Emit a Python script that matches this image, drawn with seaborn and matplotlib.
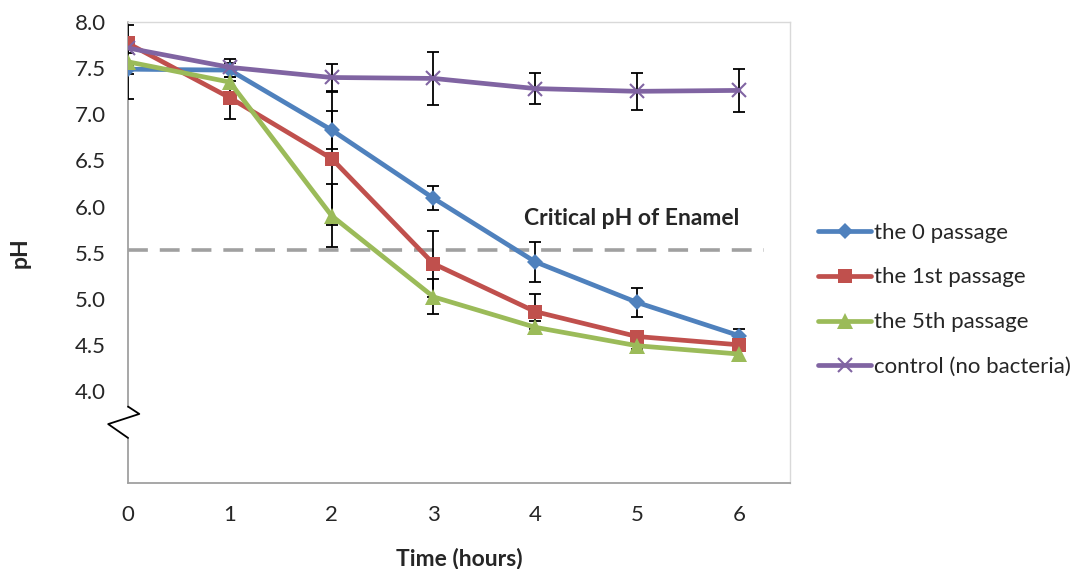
import numpy as np
import pandas as pd
import matplotlib
matplotlib.use("Agg")
import matplotlib.pyplot as plt
import matplotlib.transforms as mtransforms
import seaborn as sns


# Data
time_h = [0, 1, 2, 3, 4, 5, 6]

ph_p0 = [7.49, 7.48, 6.83, 6.09, 5.40, 4.96, 4.60]
ph_p1 = [7.77, 7.18, 6.52, 5.38, 4.86, 4.59, 4.50]
ph_p5 = [7.57, 7.35, 5.90, 5.02, 4.69, 4.49, 4.40]
ph_ctrl = [7.72, 7.51, 7.40, 7.39, 7.28, 7.25, 7.26]

err_p0 = [0.05, 0.12, 0.21, 0.13, 0.22, 0.16, 0.07]
err_p1 = [0.05, 0.23, 0.72, 0.36, 0.19, 0.06, 0.05]
err_p5 = [0.40, 0.05, 0.34, 0.19, 0.07, 0.04, 0.05]
err_ctrl = [0.05, 0.05, 0.15, 0.29, 0.17, 0.20, 0.23]

labels = ["the 0 passage", "the 1st passage", "the 5th passage", "control (no bacteria)"]
colors = ["#4F81BD", "#C0504D", "#9BBB59", "#8064A2"]
markers = ["D", "s", "^", "x"]
marker_sizes = [8.5, 10, 11, 10]

critical_ph = 5.53
critical_end = 6.25
critical_label = "Critical pH of Enamel"

y_ticks = [4.0, 4.5, 5.0, 5.5, 6.0, 6.5, 7.0, 7.5, 8.0]


sns.set_style("white")
plt.rcParams["font.family"] = ["Lato", "DejaVu Sans"]

df = pd.DataFrame({
    "time": time_h * 4,
    "ph": ph_p0 + ph_p1 + ph_p5 + ph_ctrl,
    "group": np.repeat(labels, len(time_h)),
})

fig = plt.figure(figsize=(10.76, 5.69), dpi=100)
ax = fig.add_axes([0.119, 0.151, 0.615, 0.810])

# seaborn won't mix filled and line markers, so use a stand-in and swap after
sns.lineplot(
    data=df,
    x="time",
    y="ph",
    hue="group",
    style="group",
    hue_order=labels,
    style_order=labels,
    palette=colors,
    markers=["D", "s", "^", "o"],
    dashes=False,
    linewidth=3.4,
    markeredgewidth=0,
    ax=ax,
    zorder=3,
)

series_lines = list(ax.lines[:4])
for line, ms, mk, c in zip(series_lines, marker_sizes, markers, colors):
    line.set_marker(mk)
    line.set_markersize(ms)
    line.set_markerfacecolor(c)
    line.set_markeredgecolor(c)
    if mk == "x":
        line.set_markeredgewidth(1.5)

# Error bars
for vals, errs in zip([ph_p0, ph_p1, ph_p5, ph_ctrl],
                      [err_p0, err_p1, err_p5, err_ctrl]):
    ax.errorbar(
        time_h, vals, yerr=errs,
        fmt="none", ecolor="black", elinewidth=1.3,
        capsize=4.5, capthick=1.3, zorder=2,
    )

# Critical pH line
ax.hlines(critical_ph, 0, critical_end, colors="#A0A0A0",
          linewidth=2.6, linestyles=(0, (5.5, 3.3)), zorder=1)
ax.text(4.95, 5.87, critical_label, ha="center", va="center",
        fontsize=16.5, fontweight="bold")

ax.set_xlim(0, 6.5)
ax.set_ylim(3.0, 8.0)
ax.set_xticks(time_h)
ax.set_yticks(y_ticks)
ax.set_yticklabels([f"{v:.1f}" for v in y_ticks])
ax.tick_params(axis="both", length=0, labelsize=16)
ax.tick_params(axis="y", pad=16)
ax.tick_params(axis="x", pad=16)

ax.set_xlabel("Time (hours)", fontsize=16.5, fontweight="bold", labelpad=16)
ax.set_ylabel("pH", fontsize=16.5, fontweight="bold", labelpad=32)

for side in ["top", "right"]:
    ax.spines[side].set_color("#D9D9D9")
    ax.spines[side].set_linewidth(1.0)
ax.spines["bottom"].set_color("#A0A0A0")
ax.spines["bottom"].set_linewidth(1.3)
ax.spines["left"].set_visible(False)

# Left axis with break mark
trans = mtransforms.blended_transform_factory(ax.transAxes, ax.transData)
ax.plot([0, 0], [3.83, 8.0], color="#A0A0A0", lw=1.3, transform=trans,
        clip_on=False, zorder=0.5)
ax.plot([0, 0], [3.0, 3.49], color="#A0A0A0", lw=1.3, transform=trans,
        clip_on=False, zorder=0.5)
ax.plot([0, 0.017, -0.030, 0], [3.83, 3.75, 3.64, 3.49], color="black",
        lw=1.3, transform=trans, clip_on=False)

if ax.get_legend() is not None:
    ax.get_legend().remove()
fig.legend(
    series_lines, labels,
    loc="center left", bbox_to_anchor=(0.75, 0.473),
    frameon=False, fontsize=16, handlelength=2.4,
    handletextpad=0.1, labelspacing=1.12, borderpad=0,
)

fig.savefig("out.png", dpi=100)
plt.close(fig)
